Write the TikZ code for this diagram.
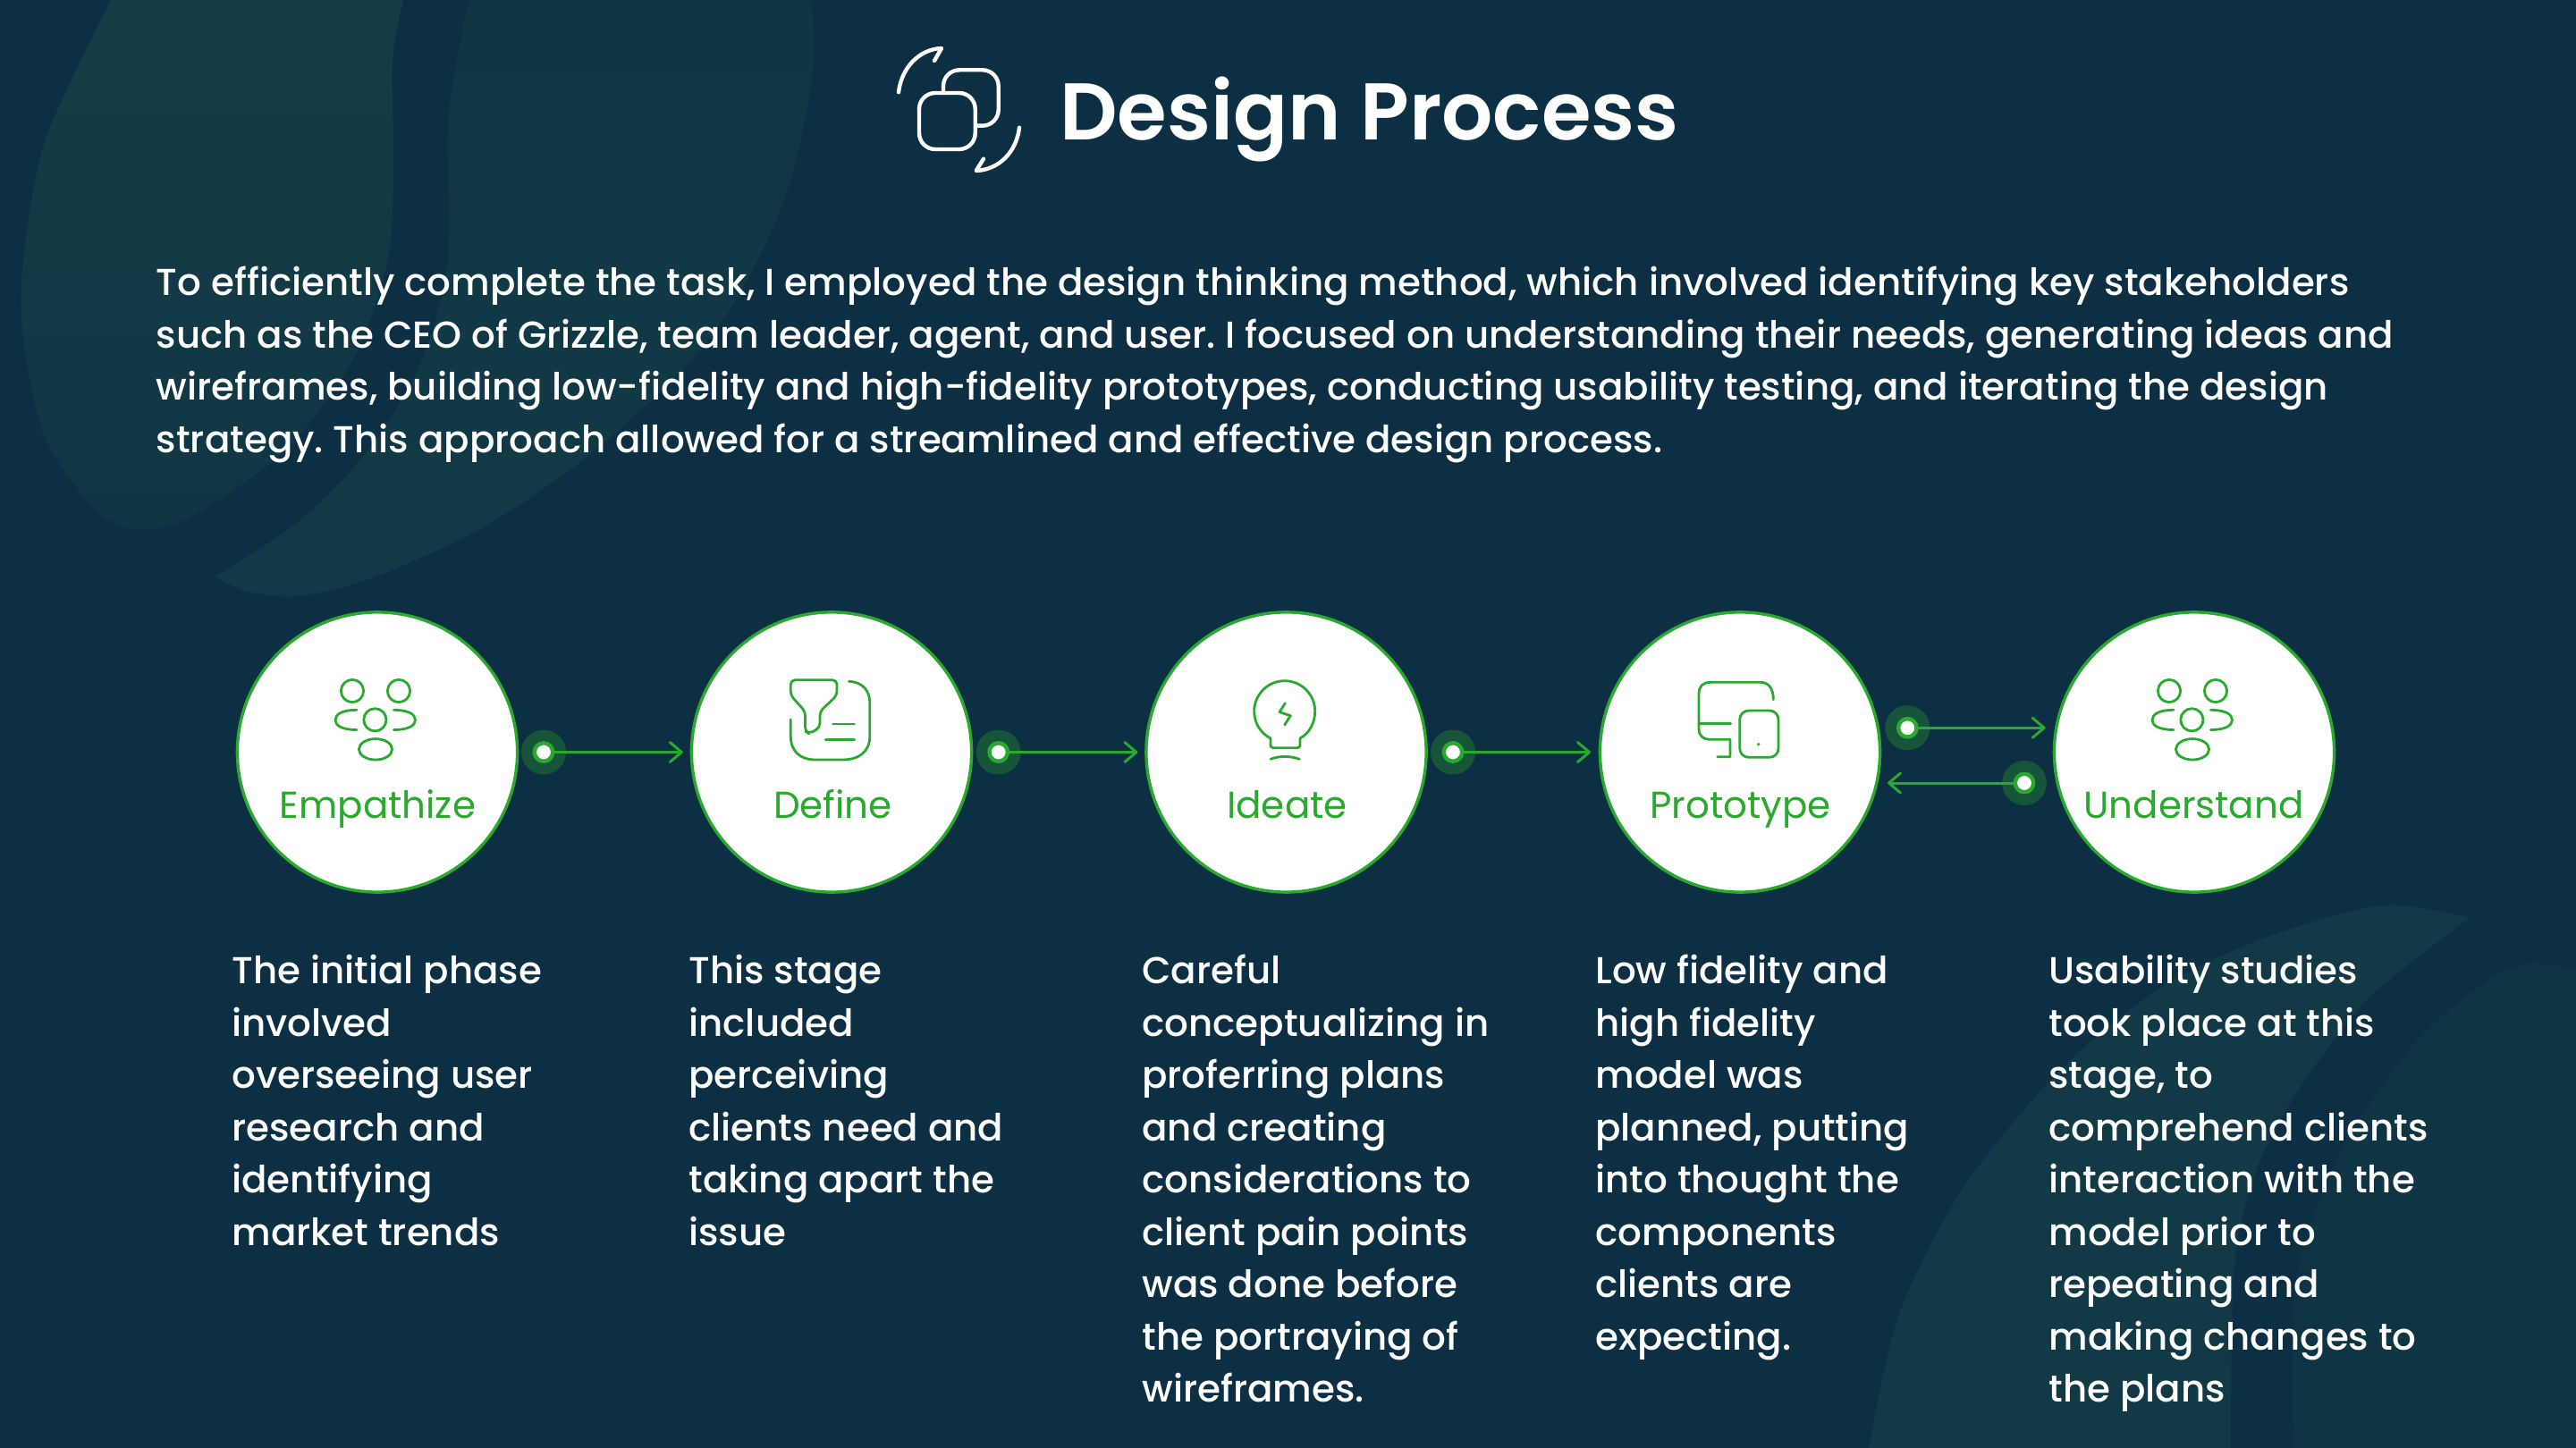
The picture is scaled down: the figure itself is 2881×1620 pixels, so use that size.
\documentclass[tikz,border=0pt]{standalone}
\usepackage{fontspec}
\setmainfont{Poppins}
\newfontfamily\titlefont{Poppins SemiBold}
\newfontfamily\medfont{Poppins Medium}
\usetikzlibrary{arrows.meta}
\definecolor{bgc}{HTML}{0C2F43}
\definecolor{blobA}{HTML}{143D46}
\definecolor{blobB}{HTML}{103644}
\definecolor{blobC}{HTML}{123A46}
\definecolor{blobD}{HTML}{0F3545}
\definecolor{grn}{HTML}{2BA830}
\definecolor{glowc}{HTML}{17553A}
\tikzset{
  px/.style={x=0.5pt,y=-0.5pt},
  stagec/.style={circle,draw=grn,line width=1.7pt,fill=white,minimum size=156.6pt,inner sep=0pt},
  stagelabel/.style={text=grn,font=\fontsize{21}{26}\selectfont,anchor=base,inner sep=0pt},
  glow/.style={circle,fill=glowc,minimum size=25pt,inner sep=0pt},
  ringdot/.style={circle,draw=grn,line width=2.2pt,fill=white,minimum size=10.2pt,inner sep=0pt},
  conn/.style={draw=grn,line width=1.5pt,line cap=round,-{Straight Barb[length=6.5pt,width=11pt,line width=1.5pt,round]}},
  iconline/.style={draw=grn,line width=1.4pt,line cap=round,line join=round},
  whiteicon/.style={draw=white,line width=2.2pt,line cap=round,line join=round},
  bodytext/.style={text=white,font=\medfont\fontsize{20.99}{29.25}\selectfont,align=left,anchor=north west,inner sep=0pt},
  people/.pic={
    \draw[iconline] (-28,-68.5) circle[radius=6.3pt];
    \draw[iconline] (24,-68.5) circle[radius=6.3pt];
    \draw[iconline] (-2.6,-36.2) circle[radius=6.3pt];
    \draw[iconline] (-23,-47.2) .. controls (-39,-47.2) and (-47,-42.5) .. (-47,-36) .. controls (-47,-29.5) and (-39,-25) .. (-23,-25);
    \draw[iconline] (18.4,-47.2) .. controls (34.4,-47.2) and (42.5,-42.5) .. (42.5,-36) .. controls (42.5,-29.5) and (34.4,-25) .. (18.4,-25);
    \draw[iconline] (-2,-3.2) ellipse[x radius=9.3pt,y radius=5.85pt];
  }
}
\begin{document}
\frenchspacing
\begin{tikzpicture}[px]
\useasboundingbox (0,0) rectangle (2881,1620);
\fill[bgc] (0,0) rectangle (2881,1620);
% background leaves
\shade[top color=blobA,bottom color=blobB,shading angle=0] (124,0) -- (451,0) -- plot[smooth] coordinates {(451,0) (439,67) (440,179) (434,290) (395,402) (319,504) (217,576) (159,593) (108,571) (51,491) (26,379) (26,290) (51,156) (124,0)} -- cycle;
\shade[top color=blobB,bottom color=blobC,shading angle=0] (524,0) -- (908,0) -- plot[smooth] coordinates {(908,0) (908,89) (874,232) (797,375) (670,500) (542,589) (415,647) (332,667) (274,661) (241,645)} -- plot[smooth] coordinates {(241,645) (332,585) (415,500) (472,402) (501,290) (501,134) (524,0)} -- cycle;
\fill[blobC] plot[smooth] coordinates {(2090,1620) (2124,1470) (2197,1327) (2309,1192) (2422,1102) (2534,1049) (2664,1013) (2762,1027)} -- plot[smooth] coordinates {(2762,1027) (2647,1119) (2562,1233) (2517,1327) (2498,1429) (2495,1620)} -- cycle;
\fill[blobD] plot[smooth] coordinates {(2565,1620) (2568,1429) (2619,1286) (2703,1164) (2787,1094) (2832,1078) (2881,1086)} -- (2881,1620) -- cycle;
% title
\draw[whiteicon] (1005,103.3) .. controls (1008,76) and (1028,55) .. (1053,54) -- (1045,68);
\draw[whiteicon] (1140,142.7) .. controls (1137,170) and (1117,190) .. (1091.7,191) -- (1100,177.7);
\draw[whiteicon,rounded corners=9pt] (1028,104) rectangle (1090.7,167);
\draw[whiteicon,rounded corners=9pt] (1055,103) -- (1055,78.3) -- (1116.7,78.3) -- (1116.7,140.7) -- (1092,140.7);
\node[text=white,font=\titlefont\fontsize{45}{54}\selectfont,anchor=base west,inner sep=0pt] (title) at (1185,157) {Design Process};
% intro
\node[bodytext] (intro) at (174.5,298) {To efficiently complete the task, I employed the design thinking method, which involved identifying key stakeholders\\
such as the CEO of Grizzle, team leader, agent, and user. I focused on understanding their needs, generating ideas and\\
wireframes, building low-fidelity and high-fidelity prototypes, conducting usability testing, and iterating the design\\
strategy. This approach allowed for a streamlined and effective design process.};
% stages
\node[stagec] (s1) at (422,841.5) {};
\node[stagec] (s2) at (930,841.5) {};
\node[stagec] (s3) at (1438.5,841.5) {};
\node[stagec] (s4) at (1946,841.5) {};
\node[stagec] (s5) at (2454,841.5) {};
\node[stagelabel] (l1) at (422.5,915.5) {Empathize};
\node[stagelabel] (l2) at (931.5,915.5) {Define};
\node[stagelabel] (l3) at (1439.5,915.5) {Ideate};
\node[stagelabel] (l4) at (1946.5,915.5) {Prototype};
\node[stagelabel] (l5) at (2453.5,915.5) {Understand};
% icons
\pic at (s1.center) {people};
\pic at (s5.center) {people};
\draw[iconline,rounded corners=2.5pt] (884.3,760.7) -- (936,760.7) -- (936,778) -- (917,796) -- (917,814) -- (905,821) -- (900.5,818) -- (900.5,796) -- (884.3,778) -- cycle;
\draw[iconline] (949.4,762.3) .. controls (965,763) and (972.8,773) .. (972.8,786.7) -- (972.8,823.3) .. controls (972.8,841) and (961,850) .. (941.8,850) -- (912.6,850) .. controls (895,850) and (884.3,841) .. (884.3,823.3) -- (884.3,805);
\draw[iconline] (931.5,810) -- (955.6,810);
\draw[iconline] (923.3,827.3) -- (955.6,827.3);
\draw[iconline] (1421,826) .. controls (1409,820) and (1402.7,808) .. (1402.7,795.7) .. controls (1402.7,777) and (1418,761.7) .. (1436.7,761.7) .. controls (1455.5,761.7) and (1470.7,777) .. (1470.7,795.7) .. controls (1470.7,808) and (1465,820) .. (1454,826);
\draw[iconline,rounded corners=1.5pt] (1421,826) -- (1421,836.7) -- (1454,836.7) -- (1454,826);
\draw[iconline] (1421,849.3) .. controls (1431,845.5) and (1443,845.5) .. (1453.3,849.3);
\draw[iconline] (1437.3,786.7) -- (1431,796.7) -- (1443.3,800.7) -- (1436.7,811);
\draw[iconline] (1983.3,782.7) .. controls (1983.3,770) and (1978,763.3) .. (1968.3,763.3) -- (1913.3,763.3) .. controls (1904,763.3) and (1900,768) .. (1900,776.7) -- (1900,815) .. controls (1900,823) and (1904,827.3) .. (1913.3,827.3) -- (1935,827.3) -- (1935,846.7) -- (1920.7,846.7);
\draw[iconline] (1900,809.3) -- (1935.7,809.3);
\draw[iconline,rounded corners=5pt] (1945.7,795) rectangle (1989,847.3);
\fill[grn] (1966.7,832.7) circle[radius=0.9pt];
% connectors
\foreach \n/\cx/\cy in {1/608/841.5,2/1116.7/841.5,3/1625/841.5,4/2133.3/814.3,5/2264/876}{
  \node[glow] (g\n) at (\cx,\cy) {};
  \node[ringdot] (d\n) at (\cx,\cy) {};
}
\coordinate (t1) at (763.8,841.5);
\coordinate (t2) at (1272.4,841.5);
\coordinate (t3) at (1779,841.5);
\coordinate (t4) at (2287.7,814.3);
\coordinate (t5) at (2111,876);
\draw[conn] (d1.east) -- (t1);
\draw[conn] (d2.east) -- (t2);
\draw[conn] (d3.east) -- (t3);
\draw[conn] (d4.east) -- (t4);
\draw[conn] (d5.west) -- (t5);
% descriptions
\node[bodytext] (p1) at (259,1068) {The initial phase\\involved\\overseeing user\\research and\\identifying\\market trends};
\node[bodytext] (p2) at (770,1068) {This stage\\included\\perceiving\\clients need and\\taking apart the\\issue};
\node[bodytext] (p3) at (1277,1068) {Careful\\conceptualizing in\\proferring plans\\and creating\\considerations to\\client pain points\\was done before\\the portraying of\\wireframes.};
\node[bodytext] (p4) at (1784,1068) {Low fidelity and\\high fidelity\\model was\\planned, putting\\into thought the\\components\\clients are\\expecting.};
\node[bodytext] (p5) at (2291,1068) {Usability studies\\took place at this\\stage, to\\comprehend clients\\interaction with the\\model prior to\\repeating and\\making changes to\\the plans};
\end{tikzpicture}
\end{document}
